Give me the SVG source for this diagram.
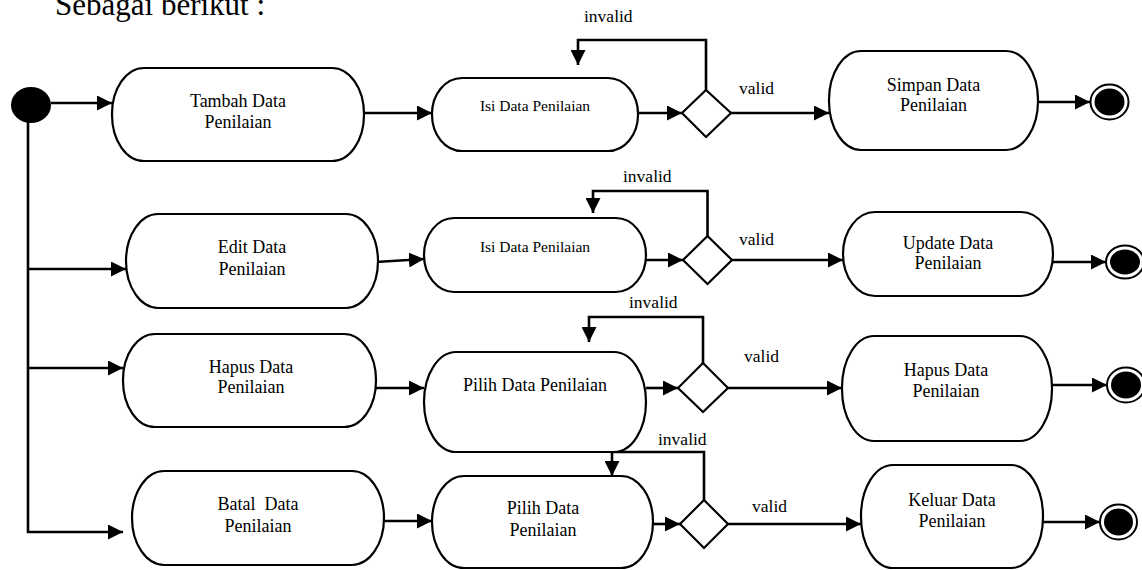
<svg xmlns="http://www.w3.org/2000/svg" width="1142" height="570" viewBox="0 0 1142 570">
<defs>
<marker id="ah" markerUnits="userSpaceOnUse" markerWidth="15" markerHeight="15" refX="15" refY="7.5" orient="auto">
<path d="M0,0 L15,7.5 L0,15 z" fill="#000"/>
</marker>
</defs>
<style>
text{font-family:"Liberation Serif","Times New Roman",serif;fill:#000;}
.t{font-size:18px;text-anchor:middle;}
.ts{font-size:15.5px;text-anchor:middle;}
.lbl{font-size:17.5px;}
.box{fill:#fff;stroke:#000;stroke-width:2.2;}
.dia{fill:#fff;stroke:#000;stroke-width:2.2;}
.c{fill:none;stroke:#000;stroke-width:2.6;}
.a{fill:none;stroke:#000;stroke-width:2.6;marker-end:url(#ah);}
.endo{fill:#fff;stroke:#000;stroke-width:2;}
</style>
<rect width="1142" height="570" fill="#fff"/>
<text x="55" y="15" style="font-size:31px">Sebagai berikut :</text>

<g id="connectors">
<line class="a" x1="51" y1="103" x2="112" y2="103"/>
<line class="a" x1="364" y1="113" x2="432" y2="113"/>
<line class="a" x1="638" y1="113" x2="682" y2="113"/>
<line class="a" x1="731" y1="113" x2="829" y2="113"/>
<polyline class="a" points="706,90 706,40 578,40 578,65"/>
<line class="a" x1="1036" y1="102" x2="1090" y2="102"/>
<polyline class="a" points="28,120 28,532 123,532"/>
<line class="a" x1="28" y1="269" x2="126" y2="269"/>
<line class="a" x1="28" y1="368" x2="123" y2="368"/>
<line class="a" x1="376" y1="262" x2="424" y2="259"/>
<line class="a" x1="646" y1="260" x2="683" y2="260"/>
<line class="a" x1="732" y1="260" x2="843" y2="260"/>
<polyline class="a" points="707.5,236 707.5,191 593,191 593,213"/>
<line class="a" x1="1050" y1="262" x2="1106" y2="262"/>
<line class="a" x1="376" y1="388" x2="424" y2="388"/>
<line class="a" x1="646" y1="388" x2="678" y2="388"/>
<line class="a" x1="728" y1="388" x2="842" y2="388"/>
<polyline class="a" points="703,363 703,317 589,317 589,342"/>
<line class="a" x1="1050" y1="385" x2="1107" y2="385"/>
<line class="a" x1="384" y1="521" x2="432" y2="521"/>
<line class="a" x1="650" y1="524" x2="680" y2="524"/>
<line class="a" x1="728" y1="524" x2="861" y2="524"/>
<polyline class="a" points="704,500 704,452 612,452 612,476"/>
<line class="a" x1="1043" y1="522" x2="1100" y2="522"/>
<text class="lbl" x="584" y="22">invalid</text>
<text class="lbl" x="739" y="94">valid</text>
<text class="lbl" x="623" y="182">invalid</text>
<text class="lbl" x="739" y="245">valid</text>
<text class="lbl" x="629" y="308">invalid</text>
<text class="lbl" x="744" y="362">valid</text>
<text class="lbl" x="658" y="445">invalid</text>
<text class="lbl" x="752" y="512">valid</text>
</g>

<g id="start"><ellipse cx="31" cy="105" rx="20" ry="18" fill="#000"/></g>

<g id="tambah"><rect class="box" x="112" y="68" width="252" height="93" rx="32" ry="46"/>
<text class="t" x="238" y="107">Tambah Data</text><text class="t" x="238" y="128">Penilaian</text></g>
<g id="isi1"><rect class="box" x="432" y="78" width="206" height="73" rx="30" ry="36"/>
<text class="ts" x="535" y="111">Isi Data Penilaian</text></g>
<g id="dec1"><polygon class="dia" points="682,113 706,90 731,113 706,137"/></g>
<g id="simpan"><rect class="box" x="829" y="51" width="209" height="99" rx="32" ry="49"/>
<text class="t" x="933.5" y="91">Simpan Data</text><text class="t" x="933.5" y="111">Penilaian</text></g>
<g id="end1"><ellipse class="endo" cx="1109.5" cy="102" rx="19" ry="17.5"/><ellipse cx="1109.5" cy="102" rx="15" ry="13.5" fill="#000"/></g>

<g id="edit"><rect class="box" x="126" y="214" width="252" height="94" rx="32" ry="47"/>
<text class="t" x="252" y="253">Edit Data</text><text class="t" x="252" y="275">Penilaian</text></g>
<g id="isi2"><rect class="box" x="424" y="218" width="222" height="74" rx="30" ry="37"/>
<text class="ts" x="535" y="252">Isi Data Penilaian</text></g>
<g id="dec2"><polygon class="dia" points="683,260 707.5,236 732,260 707.5,284"/></g>
<g id="update"><rect class="box" x="843" y="212" width="210" height="84" rx="32" ry="42"/>
<text class="t" x="948" y="249">Update Data</text><text class="t" x="948" y="269">Penilaian</text></g>
<g id="end2"><ellipse class="endo" cx="1125" cy="262" rx="19" ry="16.5"/><ellipse cx="1125" cy="262" rx="15" ry="12.5" fill="#000"/></g>

<g id="hapus"><rect class="box" x="123" y="334" width="253" height="93" rx="32" ry="46"/>
<text class="t" x="251" y="373">Hapus Data</text><text class="t" x="251" y="393">Penilaian</text></g>
<g id="pilih3"><rect class="box" x="424" y="352" width="222" height="100" rx="32" ry="50"/>
<text class="t" x="535" y="391">Pilih Data Penilaian</text></g>
<g id="dec3"><polygon class="dia" points="678,388 703,363 728,388 703,412"/></g>
<g id="hapus2"><rect class="box" x="842" y="336" width="210" height="105" rx="32" ry="52"/>
<text class="t" x="946" y="376">Hapus Data</text><text class="t" x="946" y="397">Penilaian</text></g>
<g id="end3"><ellipse class="endo" cx="1126" cy="385" rx="19" ry="17.5"/><ellipse cx="1126" cy="385" rx="15" ry="13.5" fill="#000"/></g>

<g id="batal"><rect class="box" x="132" y="471" width="252" height="94" rx="32" ry="47"/>
<text class="t" x="258" y="510">Batal&#160; Data</text><text class="t" x="258" y="532">Penilaian</text></g>
<g id="pilih4"><rect class="box" x="432" y="476" width="221" height="92" rx="32" ry="46"/>
<text class="t" x="543" y="514">Pilih Data</text><text class="t" x="543" y="536">Penilaian</text></g>
<g id="dec4"><polygon class="dia" points="680,524 704,500 728,524 704,548"/></g>
<g id="keluar"><rect class="box" x="861" y="465" width="182" height="103" rx="32" ry="51"/>
<text class="t" x="952" y="506">Keluar Data</text><text class="t" x="952" y="527">Penilaian</text></g>
<g id="end4"><ellipse class="endo" cx="1118.5" cy="522" rx="18.5" ry="17.5"/><ellipse cx="1118.5" cy="522" rx="14.5" ry="13.5" fill="#000"/></g>
</svg>
